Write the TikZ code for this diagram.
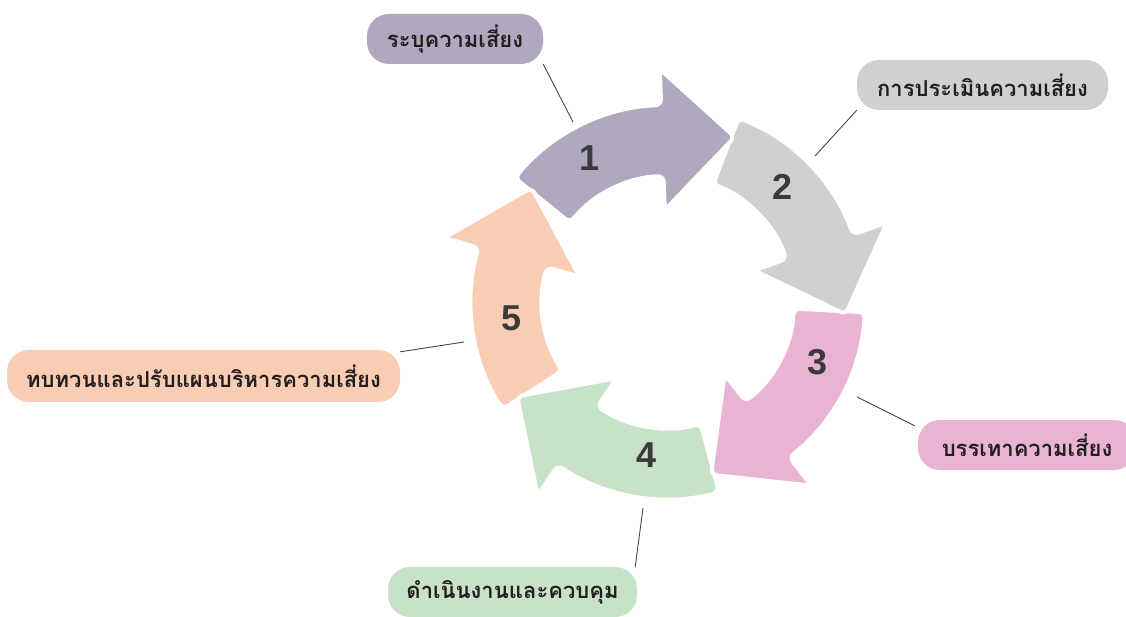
\documentclass[tikz,border=0pt]{standalone}
\usepackage{fontspec}
\setmainfont{Liberation Sans}
\newfontfamily\thaifont[Script=Thai]{Loma}
\usetikzlibrary{calc}
\definecolor{cA}{RGB}{176,168,190}
\definecolor{cB}{RGB}{208,208,208}
\definecolor{cC}{RGB}{233,179,212}
\definecolor{cD}{RGB}{200,226,200}
\definecolor{cE}{RGB}{249,205,180}
\definecolor{txt}{RGB}{35,31,32}
\definecolor{numc}{RGB}{58,58,58}
\definecolor{linec}{RGB}{70,70,70}
\newcommand\cyclearrow[2]{%
  \path[fill=#2, draw=white, line width=4pt, rounded corners=6pt, line join=round]
    ({#1+49}:197pt) arc[start angle={#1+49}, end angle={#1}, radius=197pt]
    -- ({#1}:233pt) -- ({#1-24}:178pt) -- ({#1}:92pt) -- ({#1}:126pt)
    arc[start angle={#1}, end angle={#1+49}, radius=126pt] -- cycle;}
\begin{document}
\begin{tikzpicture}[x=1pt,y=1pt,
  lbl/.style={rounded corners=22pt, fill=#1, text=txt, inner sep=0pt,
    font=\thaifont\bfseries\fontsize{22}{22}\selectfont, minimum height=50pt},
  num/.style={font=\bfseries\fontsize{36}{36}\selectfont, text=numc},
  conn/.style={draw=linec, line width=0.9pt}]
\useasboundingbox (0,0) rectangle (1126,616);
\begin{scope}[shift={(668,314)}]
  \cyclearrow{164}{cE}
  \cyclearrow{-124}{cD}
  \cyclearrow{-52}{cC}
  \cyclearrow{20}{cB}
  \cyclearrow{92}{cA}
  \begin{scope}
    \clip (0,0) -- (122:320pt) -- (145:330pt) -- (166:320pt) -- cycle;
    \cyclearrow{164}{cE}
  \end{scope}
\end{scope}
\node[num] (n1) at (590,458) {1};
\node[num] (n2) at (782,429) {2};
\node[num] (n3) at (817,254) {3};
\node[num] (n4) at (647,161) {4};
\node[num] (n5) at (512,298) {5};
\node[lbl=cA, minimum width=176pt] (b1) at (455,577) {ระบุความเสี่ยง};
\node[lbl=cB, minimum width=251pt] (b2) at (982.5,531) {การประเมินความเสี่ยง};
\node[lbl=cC, minimum width=218pt] (b3) at (1027,171) {บรรเทาความเสี่ยง};
\node[lbl=cD, minimum width=249pt] (b4) at (512.5,24) {ดำเนินงานและควบคุม};
\node[lbl=cE, minimum width=393pt, minimum height=52pt] (b5) at (203.5,240) {ทบทวนและปรับแผนบริหารความเสี่ยง};
\coordinate (c1) at (573,494);
\coordinate (c2) at (815,460);
\coordinate (c3) at (857,219);
\coordinate (c4) at (643,108);
\coordinate (c5) at (464,274);
\draw[conn] (b1.south east) -- (c1);
\draw[conn] (b2.south west) -- (c2);
\draw[conn] (c3) -- ([xshift=-3pt,yshift=-6pt]b3.north west);
\draw[conn] (c4) -- ([xshift=-2pt]b4.north east);
\draw[conn] (c5) -- ([yshift=-2pt]b5.north east);
\end{tikzpicture}
\end{document}
